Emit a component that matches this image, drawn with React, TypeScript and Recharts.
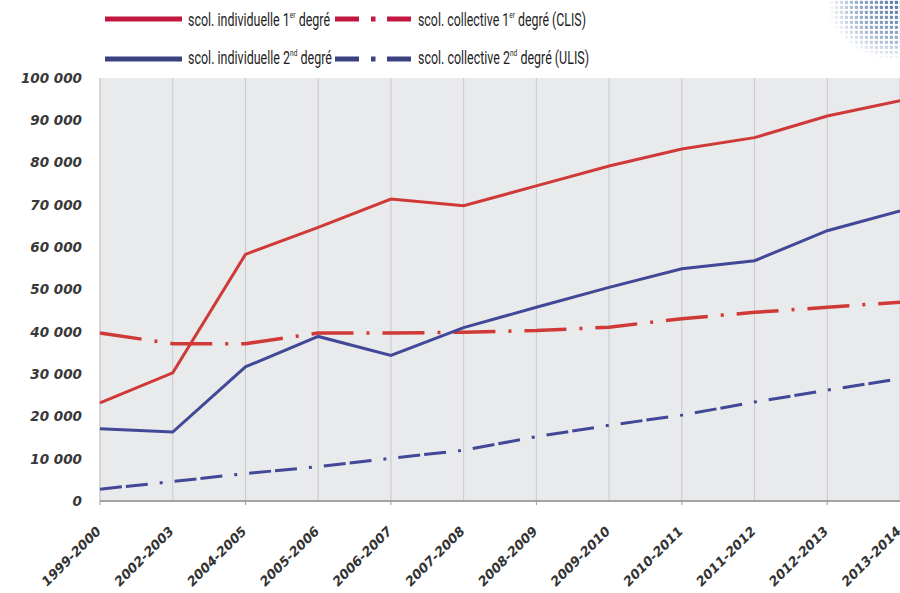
import React from "react";
import { CartesianGrid, Line, LineChart, XAxis, YAxis } from "recharts";

// scolarisation des élèves handicapés, effectifs par année scolaire
const categories = [
  "1999-2000",
  "2002-2003",
  "2004-2005",
  "2005-2006",
  "2006-2007",
  "2007-2008",
  "2008-2009",
  "2009-2010",
  "2010-2011",
  "2011-2012",
  "2012-2013",
  "2013-2014",
];
const indiv1 = [23200, 30300, 58300, 64700, 71400, 69800, 74500, 79200, 83200, 85900, 91000, 94600];
const coll1 = [39700, 37200, 37200, 39700, 39700, 39900, 40300, 41100, 43100, 44600, 45800, 47000];
const indiv2 = [17100, 16300, 31700, 38900, 34400, 41000, 45800, 50500, 54900, 56800, 63900, 68600];
const coll2 = [2800, 4600, 6500, 8100, 10100, 12000, 15200, 17900, 20300, 23400, 26200, 28900];
const yTicks = [0, 10000, 20000, 30000, 40000, 50000, 60000, 70000, 80000, 90000, 100000];

const rows = categories.map((c, i) => ({
  year: c,
  indiv1: indiv1[i],
  coll1: coll1[i],
  indiv2: indiv2[i],
  coll2: coll2[i],
}));

const RED = "#cf3a38";
const BLUE = "#414897";
const RED_LEG = "#c2173f";
const BLUE_LEG = "#3b4280";
const tickFont = "'DejaVu Sans', sans-serif";
const legendFont = "Roboto, 'Noto Sans', sans-serif";

const fmt = (v: number) => String(v).replace(/\B(?=(\d{3})+(?!\d))/g, " ");

function XTick(props: any) {
  const { x, y, payload, index } = props;
  return (
    <g transform={`translate(${x},${y})`}>
      {index % 2 === 0 && <line x1={0} y1={0} x2={0} y2={4} stroke="#999" strokeWidth={1} />}
      <text
        transform="translate(2, 31) rotate(-45)"
        textAnchor="end"
        fontFamily={tickFont}
        fontWeight="bold"
        fontStyle="italic"
        fontSize={13}
        fill="#333"
      >
        {payload.value}
      </text>
    </g>
  );
}

function YTick(props: any) {
  const { x, y, payload } = props;
  return (
    <text
      x={x}
      y={y}
      dy="0.36em"
      textAnchor="end"
      fontFamily={tickFont}
      fontWeight="bold"
      fontStyle="italic"
      fontSize={13.5}
      fill="#383838"
    >
      {fmt(payload.value)}
    </text>
  );
}

type LegendEntry = {
  x: number;
  y: number;
  ty: number;
  color: string;
  dashed: boolean;
  label: string;
  sup: string;
  after: string;
  width: number;
};

const legendEntries: LegendEntry[] = [
  { x: 105, y: 19, ty: 26, color: RED_LEG, dashed: false, label: "scol. individuelle 1", sup: "er", after: " degré", width: 142 },
  { x: 335, y: 19, ty: 26, color: RED_LEG, dashed: true, label: "scol. collective 1", sup: "er", after: " degré (CLIS)", width: 168 },
  { x: 105, y: 59, ty: 64, color: BLUE_LEG, dashed: false, label: "scol. individuelle 2", sup: "nd", after: " degré", width: 144 },
  { x: 335, y: 59, ty: 64, color: BLUE_LEG, dashed: true, label: "scol. collective 2", sup: "nd", after: " degré (ULIS)", width: 171 },
];

function ChartLegend() {
  return (
    <svg width={900} height={75} style={{ position: "absolute", left: 0, top: 0 }}>
      {legendEntries.map((e, i) => (
        <g key={i}>
          {e.dashed ? (
            <g fill={e.color}>
              <rect x={e.x} y={e.y - 2.5} width={24} height={5} />
              <rect x={e.x + 36} y={e.y - 2.5} width={4.5} height={5} />
              <rect x={e.x + 52} y={e.y - 2.5} width={24} height={5} />
            </g>
          ) : (
            <rect x={e.x} y={e.y - 2.5} width={77} height={5} fill={e.color} />
          )}
          <text
            x={e.x + 83}
            y={e.ty}
            fontFamily={legendFont}
            fontSize={18}
            fill="#1e1e1e"
            textLength={e.width}
            lengthAdjust="spacingAndGlyphs"
          >
            {e.label}
            <tspan fontSize={9.5} dy={-8}>
              {e.sup}
            </tspan>
            <tspan dy={8}>{e.after}</tspan>
          </text>
        </g>
      ))}
    </svg>
  );
}

function Decoration() {
  return (
    <svg width={76} height={58} style={{ position: "absolute", left: 824, top: 0 }}>
      <defs>
        <radialGradient id="fade" cx="1" cy="0.1" r="0.95">
          <stop offset="0" stopColor="#fff" stopOpacity={1} />
          <stop offset="0.6" stopColor="#fff" stopOpacity={0.6} />
          <stop offset="1" stopColor="#fff" stopOpacity={0} />
        </radialGradient>
        <pattern id="dots" width={5} height={5} patternUnits="userSpaceOnUse">
          <rect x={0.8} y={0.8} width={3.2} height={3.2} rx={0.8} fill="#5578aa" />
        </pattern>
        <mask id="m">
          <rect width={76} height={58} fill="url(#fade)" />
        </mask>
      </defs>
      <rect width={76} height={58} fill="url(#dots)" mask="url(#m)" />
    </svg>
  );
}

export default function App() {
  return (
    <div
      style={{
        position: "absolute",
        left: 0,
        top: 0,
        width: 900,
        height: 593,
        overflow: "hidden",
        background: "#fff",
      }}
    >
      <Decoration />
      <ChartLegend />
      <div style={{ position: "absolute", left: 0, top: 0 }}>
        <LineChart width={960} height={593} data={rows} margin={{ top: 78, right: 60, left: 0, bottom: 0 }}>
          <CartesianGrid fill="#e9eaeb" stroke="#c9c9cb" horizontal={false} />
          <XAxis
            dataKey="year"
            interval={0}
            height={92}
            tickSize={0}
            tickMargin={0}
            tickLine={false}
            axisLine={{ stroke: "#a3a3a3", strokeWidth: 2 }}
            tick={<XTick />}
          />
          <YAxis
            width={100}
            domain={[0, 100000]}
            ticks={yTicks}
            interval={0}
            tickSize={0}
            tickMargin={18}
            tickLine={false}
            axisLine={false}
            tick={<YTick />}
          />
          <Line
            dataKey="coll2"
            stroke={BLUE}
            strokeWidth={3}
            strokeDasharray="22 4 22 12 3 12"
            dot={false}
            isAnimationActive={false}
          />
          <Line
            dataKey="coll1"
            stroke={RED}
            strokeWidth={3.5}
            strokeDasharray="42 13 3 13"
            dot={false}
            isAnimationActive={false}
          />
          <Line dataKey="indiv2" stroke={BLUE} strokeWidth={3} dot={false} isAnimationActive={false} />
          <Line dataKey="indiv1" stroke={RED} strokeWidth={3} dot={false} isAnimationActive={false} />
        </LineChart>
      </div>
    </div>
  );
}
